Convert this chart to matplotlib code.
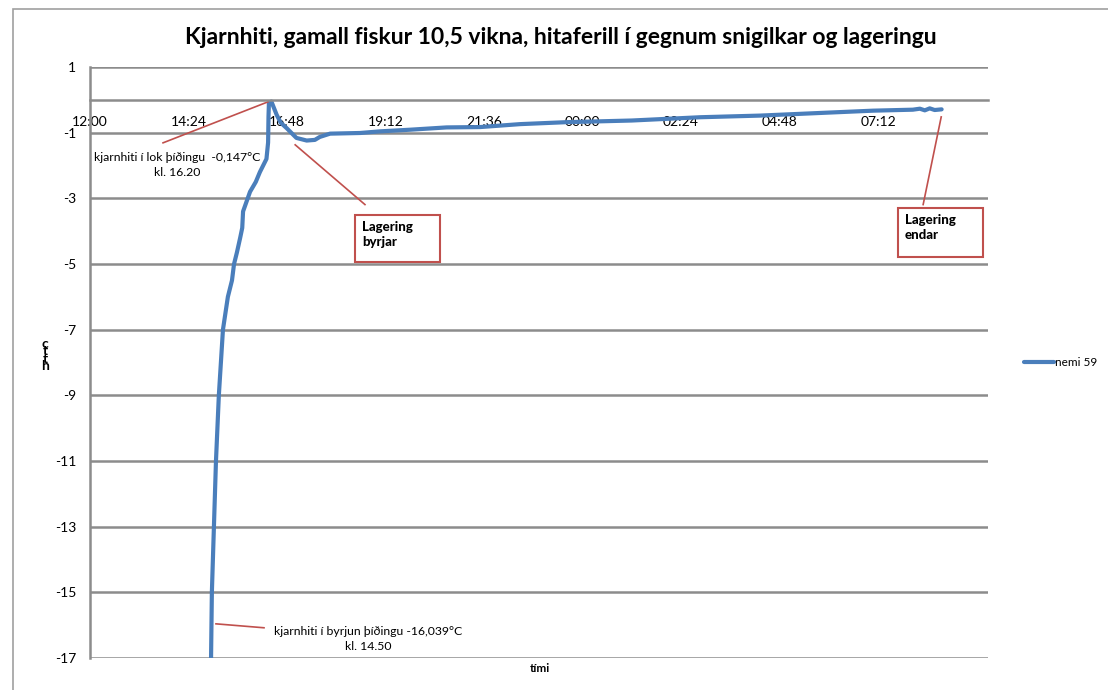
import matplotlib.pyplot as plt
from matplotlib.patches import Rectangle

plt.rcParams['font.family'] = ['Lato', 'DejaVu Sans']
plt.rcParams['axes.unicode_minus'] = False

# hours after 12:00, core temperature (°C) of probe "nemi 59"
hours = [2.95, 2.97, 3.02, 3.07, 3.14, 3.24, 3.36, 3.46, 3.51, 3.58, 3.66, 3.71, 3.73,
         3.90, 4.04, 4.14, 4.30, 4.34, 4.35, 4.36, 4.42, 4.55, 4.65, 4.79, 5.03, 5.28,
         5.48, 5.60, 5.85, 6.58, 7.07, 7.80, 8.69, 9.50, 10.48, 11.62, 13.20, 14.87,
         16.33, 17.79, 19.08, 20.05, 20.22, 20.34, 20.46, 20.58, 20.75]
temp = [-17.0, -15.0, -13.0, -11.0, -9.0, -7.0, -6.0, -5.5, -5.0, -4.65, -4.2, -3.9, -3.4,
        -2.8, -2.5, -2.2, -1.8, -1.3, -0.5, -0.1, -0.05, -0.46, -0.7, -0.86, -1.16, -1.24,
        -1.22, -1.13, -1.03, -1.01, -0.96, -0.91, -0.84, -0.83, -0.74, -0.68, -0.63, -0.53,
        -0.48, -0.40, -0.33, -0.30, -0.27, -0.32, -0.26, -0.31, -0.29]

tick_labels = ["12:00", "14:24", "16:48", "19:12", "21:36", "00:00", "02:24", "04:48", "07:12"]
y_ticks = [1, -1, -3, -5, -7, -9, -11, -13, -15, -17]

fig = plt.figure(figsize=(11.08, 6.90), dpi=100)
ax = fig.add_axes([0.0812, 0.0464, 0.8105, 0.8565])

fig.patches.append(Rectangle((13 / 1108, -0.1), 1.2, 1 - 9 / 690 + 0.1, transform=fig.transFigure,
                             fill=False, edgecolor="#a0a0a0", lw=1.2))

ax.plot(hours, temp, color="#4a7ebb", lw=3, label="nemi 59", solid_capstyle="round")

ax.set_xlim(0, 21.88)
ax.set_ylim(-17, 1)
ax.set_yticks(y_ticks)
ax.set_xticks([i * 2.4 for i in range(len(tick_labels))])
ax.set_xticklabels(tick_labels)
ax.grid(axis="y", color="#8c8c8c", lw=1.8)
ax.set_axisbelow(True)

for s in ["top", "right"]:
    ax.spines[s].set_visible(False)
ax.spines["left"].set_color("#8c8c8c")
ax.spines["left"].set_linewidth(1.8)
ax.spines["bottom"].set_position(("data", 0))
ax.spines["bottom"].set_color("#8c8c8c")
ax.spines["bottom"].set_linewidth(1.8)
ax.tick_params(axis="x", length=0, pad=12, labelsize=10)
ax.tick_params(axis="y", length=0, pad=10, labelsize=10)

fig.text(0.506, 0.945, "Kjarnhiti, gamall fiskur 10,5 vikna, hitaferill í gegnum snigilkar og lageringu",
         ha="center", va="center", fontsize=16.5, fontweight="bold")
fig.text(540 / 1108, 1 - 668 / 690, "tími", ha="center", va="center", fontsize=8.5, fontweight="bold")
fig.text(45 / 1108, 1 - 355 / 690, "c\nt\nt\nh", ha="center", va="center", fontsize=10,
         fontweight="bold", linespacing=0.55)

red = "#c0504d"
# annotation: end of thawing
ax.plot([1.78, 4.34], [-1.31, -0.06], color=red, lw=1.2)
ax.text(2.12, -1.98, "kjarnhiti í lok þíðingu  -0,147°C\nkl. 16.20", ha="center", va="center",
        fontsize=8.8, linespacing=1.45)
# annotation: start of thawing
ax.plot([3.07, 4.24], [-15.96, -16.08], color=red, lw=1.2)
ax.text(6.77, -16.41, "kjarnhiti í byrjun þíðingu -16,039°C\nkl. 14.50", ha="center", va="center",
        fontsize=8.8, linespacing=1.45)
# Lagering byrjar
ax.plot([6.70, 5.00], [-3.19, -1.37], color=red, lw=1.2)
ax.add_patch(Rectangle((6.46, -4.95), 2.07, 1.45, fill=False, edgecolor=red, lw=1.5))
ax.text(6.63, -3.68, "Lagering\nbyrjar", ha="left", va="top", fontsize=9.5, fontweight="black",
        linespacing=1.3)
# Lagering endar
ax.plot([20.30, 20.74], [-3.19, -0.52], color=red, lw=1.2)
ax.add_patch(Rectangle((19.69, -4.80), 2.07, 1.52, fill=False, edgecolor=red, lw=1.5, clip_on=False))
ax.text(19.86, -3.48, "Lagering\nendar", ha="left", va="top", fontsize=9.5, fontweight="black",
        linespacing=1.3)

ax.legend(loc="center left", bbox_to_anchor=(1.028, 0.5), frameon=False, fontsize=8.5,
          handlelength=2.6, handletextpad=0.05)

fig.savefig("out.png", dpi=100)
